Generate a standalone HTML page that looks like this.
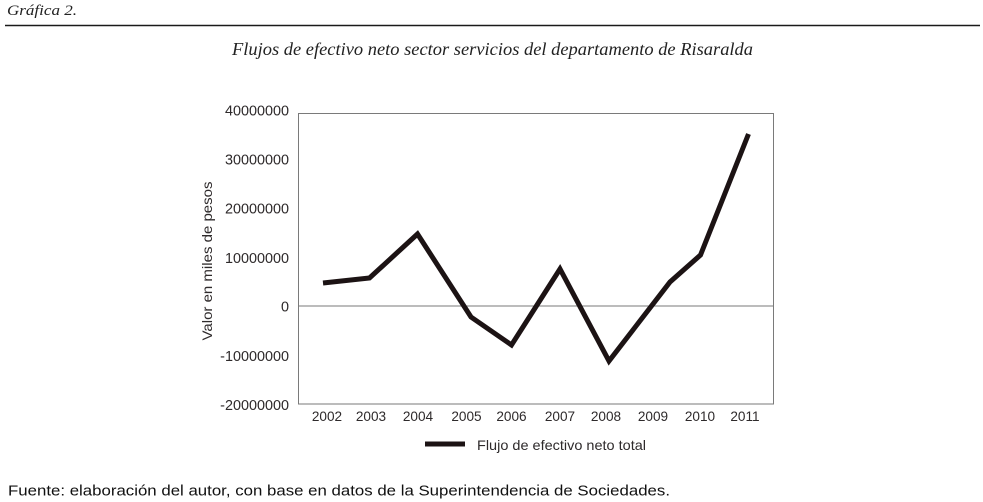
<!DOCTYPE html>
<html>
<head>
<meta charset="utf-8">
<style>
  html, body { margin: 0; padding: 0; background: #fff; }
  svg { display: block; }
  .sans { font-family: "Liberation Sans", "DejaVu Sans", sans-serif; fill: #2e2a2b; }
  .serif { font-family: "Liberation Serif", "DejaVu Serif", serif; font-style: italic; fill: #222; }
</style>
</head>
<body>
<svg width="983" height="502" viewBox="0 0 983 502" xmlns="http://www.w3.org/2000/svg">
  <rect x="0" y="0" width="983" height="502" fill="#fff"/>

  <!-- header -->
  <text class="serif" x="7" y="15" font-size="15" textLength="70" lengthAdjust="spacingAndGlyphs">Gráfica 2.</text>
  <line x1="5" y1="25.5" x2="980" y2="25.5" stroke="#1a1a1a" stroke-width="1.4"/>
  <text class="serif" x="232" y="55" font-size="18" textLength="521" lengthAdjust="spacingAndGlyphs">Flujos de efectivo neto sector servicios del departamento de Risaralda</text>

  <!-- plot box -->
  <rect x="298.5" y="113.5" width="475" height="290.5" fill="none" stroke="#7a7a7a" stroke-width="1"/>
  <line x1="298.5" y1="306" x2="773.5" y2="306" stroke="#7a7a7a" stroke-width="1"/>

  <!-- y tick labels -->
  <g class="sans" font-size="14.4" text-anchor="end">
    <text x="289" y="115.5">40000000</text>
    <text x="289" y="164.6">30000000</text>
    <text x="289" y="213.7">20000000</text>
    <text x="289" y="262.8">10000000</text>
    <text x="289" y="311.5">0</text>
    <text x="289" y="361">-10000000</text>
    <text x="289" y="410">-20000000</text>
  </g>

  <!-- y axis title -->
  <text class="sans" font-size="14" text-anchor="middle" transform="translate(212,261) rotate(-90)" textLength="159" lengthAdjust="spacingAndGlyphs">Valor en miles de pesos</text>

  <!-- x tick labels -->
  <g class="sans" font-size="13.6" text-anchor="middle">
    <text x="327" y="421">2002</text>
    <text x="371" y="421">2003</text>
    <text x="418" y="421">2004</text>
    <text x="466.5" y="421">2005</text>
    <text x="511.5" y="421">2006</text>
    <text x="560" y="421">2007</text>
    <text x="606" y="421">2008</text>
    <text x="653" y="421">2009</text>
    <text x="700" y="421">2010</text>
    <text x="745" y="421">2011</text>
  </g>

  <!-- series -->
  <polyline fill="none" stroke="#1c1314" stroke-width="5" stroke-linejoin="miter" stroke-linecap="butt"
    points="323,283 369.5,278 417.5,234 471,317 511.5,345 560,269 609,361 670,282 700.5,255 748.5,134"/>

  <!-- legend -->
  <line x1="425" y1="444" x2="465" y2="444" stroke="#1c1314" stroke-width="5"/>
  <text class="sans" x="477" y="450" font-size="14" textLength="169" lengthAdjust="spacingAndGlyphs">Flujo de efectivo neto total</text>

  <!-- footer -->
  <text class="sans" x="8" y="495.5" font-size="14.5" style="fill:#111" textLength="662" lengthAdjust="spacingAndGlyphs">Fuente: elaboración del autor, con base en datos de la Superintendencia de Sociedades.</text>
</svg>
</body>
</html>
